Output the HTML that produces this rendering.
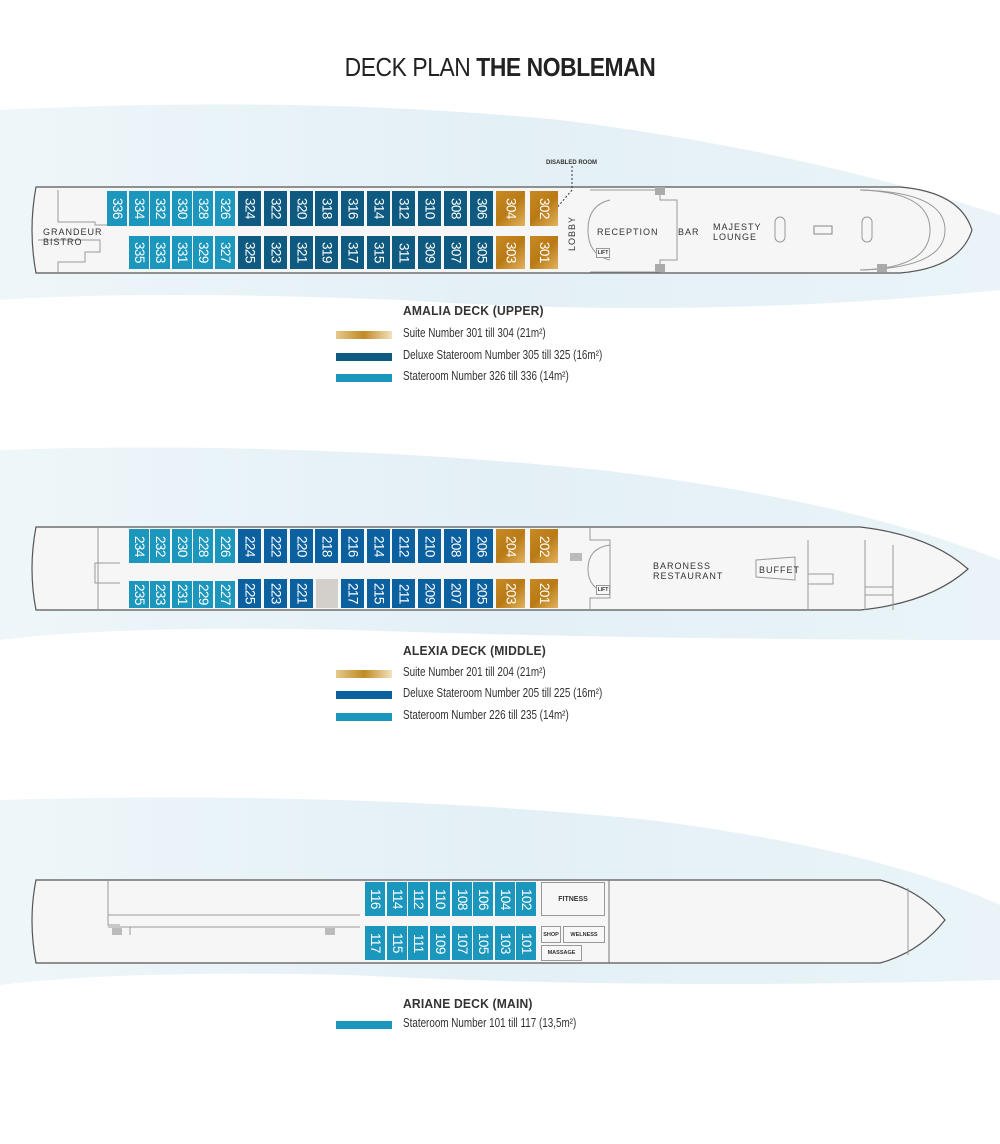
<!DOCTYPE html>
<html><head><meta charset="utf-8"><style>
*{margin:0;padding:0;box-sizing:border-box}
body{width:1000px;height:1144px;position:relative;background:#fff;font-family:"Liberation Sans",sans-serif;overflow:hidden}
.bg{position:absolute;left:0;width:1000px}
.c{position:absolute;color:#fff;font-family:"Liberation Sans",sans-serif;font-size:13.5px;letter-spacing:-0.6px;writing-mode:vertical-rl;display:flex;align-items:center;justify-content:center;line-height:1}
.l{background:#1b96bc}.d{background:#0e5a80}.m{background:#0b60a0}
.g{background:linear-gradient(135deg,#c88a25,#b97a15 50%,#e2b35e)}
.t{position:absolute;color:#333;font-size:9px;letter-spacing:1px;line-height:10px}
.h{position:absolute;left:403px;font-size:13px;font-weight:bold;color:#333;letter-spacing:.2px;transform:scaleX(.93);transform-origin:left}
.bar{position:absolute;left:336px;width:56px;height:8px}
.lg{position:absolute;left:403px;font-size:12.5px;color:#333;transform:scaleX(.79);transform-origin:left;white-space:nowrap}
.bx{position:absolute;border:1px solid #999;background:#f7f7f7;font-size:7px;font-weight:bold;color:#333;display:flex;align-items:center;justify-content:center}
</style></head><body>
<svg class="bg" style="top:0" width="1000" height="1144">
<defs><linearGradient id="w" x1="0" x2="1"><stop offset="0" stop-color="#eef6f9"/><stop offset=".5" stop-color="#e3f0f6"/><stop offset="1" stop-color="#eaf4f8"/></linearGradient></defs>
<path d="M0,110 Q300,95 560,120 Q800,150 1000,215 L1000,290 Q700,320 400,300 Q150,290 0,300Z" fill="url(#w)"/>
<path d="M0,450 Q300,440 600,470 Q850,500 1000,560 L1000,640 Q650,640 350,630 Q120,625 0,640Z" fill="url(#w)"/>
<path d="M0,800 Q350,790 650,820 Q880,850 1000,905 L1000,980 Q650,990 350,975 Q120,970 0,985Z" fill="url(#w)"/>
<path d="M36,187 L900,187 Q960,192 972,230 Q960,268 900,273 L36,273 Q28,230 36,187Z" fill="#f6f6f6" stroke="#555" stroke-width="1.2"/>
<path d="M58,190 V222 H95 V225 H108" fill="none" stroke="#999"/>
<path d="M38,240 H100 V252 H85 V262 H58 V272" fill="none" stroke="#999"/>
<path d="M590,190 H660 V200 H677 V260 H660 V272 H590" fill="none" stroke="#999"/>
<path d="M610,200 Q588,205 588,230 Q588,255 610,260" fill="none" stroke="#999"/>
<path d="M860,190 Q930,192 930,230 Q930,268 860,270" fill="none" stroke="#999"/>
<path d="M860,190 Q945,192 945,230 Q945,268 860,270" fill="none" stroke="#999"/>
<rect x="775" y="217" width="10" height="25" rx="5" fill="none" stroke="#999"/>
<rect x="862" y="217" width="10" height="25" rx="5" fill="none" stroke="#999"/>
<rect x="814" y="226" width="18" height="8" fill="none" stroke="#888"/>
<rect x="655" y="187" width="10" height="8" fill="#aaa"/><rect x="655" y="264" width="10" height="8" fill="#aaa"/>
<rect x="877" y="264" width="10" height="8" fill="#aaa"/>
<line x1="572" y1="166" x2="572" y2="190" stroke="#333" stroke-dasharray="2,2"/>
<line x1="572" y1="190" x2="555" y2="210" stroke="#333" stroke-dasharray="2,2"/>
<circle cx="554" cy="210" r="2" fill="#111"/>
<path d="M36,527 L860,527 Q930,535 968,569 Q930,603 860,610 L36,610 Q28,569 36,527Z" fill="#f6f6f6" stroke="#555" stroke-width="1.2"/>
<line x1="98" y1="527" x2="98" y2="610" stroke="#999"/>
<path d="M120,563 H95 V583 H120" fill="none" stroke="#999"/>
<path d="M590,527 V540 H610 V598 H590 V610" fill="none" stroke="#999"/>
<path d="M610,545 Q588,548 588,569 Q588,590 610,593" fill="none" stroke="#999"/>
<line x1="808" y1="540" x2="808" y2="610" stroke="#999"/>
<line x1="865" y1="540" x2="865" y2="610" stroke="#999"/><line x1="893" y1="545" x2="893" y2="610" stroke="#999"/>
<line x1="865" y1="587" x2="893" y2="587" stroke="#999"/><line x1="865" y1="595" x2="893" y2="595" stroke="#999"/>
<path d="M756,560 L795,557 V580 L756,577Z" fill="none" stroke="#999"/>
<rect x="808" y="574" width="25" height="10" fill="none" stroke="#999"/>
<rect x="570" y="553" width="12" height="8" fill="#bbb"/>
<rect x="316" y="579" width="22" height="29" fill="#d3d0cb"/>
<path d="M36,880 L880,880 Q920,890 945,920 Q920,952 880,963 L36,963 Q28,920 36,880Z" fill="#f6f6f6" stroke="#555" stroke-width="1.2"/>
<path d="M108,880 V925 H120 M108,927 H360 M130,927 V935" fill="none" stroke="#999"/>
<line x1="108" y1="915" x2="360" y2="915" stroke="#999"/>
<line x1="609" y1="880" x2="609" y2="963" stroke="#777"/>
<line x1="908" y1="888" x2="908" y2="955" stroke="#999"/>
<rect x="112" y="928" width="10" height="7" fill="#bbb"/><rect x="325" y="928" width="10" height="7" fill="#bbb"/>
</svg>

<div style="position:absolute;top:52px;width:1000px;text-align:center;font-size:26px;color:#222;letter-spacing:-.5px;transform:scaleX(.88)">DECK PLAN <b>THE NOBLEMAN</b></div>

<div class="c l" style="left:107px;top:191px;width:20px;height:35px">336</div>
<div class="c l" style="left:129px;top:191px;width:20px;height:35px">334</div>
<div class="c l" style="left:150px;top:191px;width:20px;height:35px">332</div>
<div class="c l" style="left:172px;top:191px;width:20px;height:35px">330</div>
<div class="c l" style="left:193px;top:191px;width:20px;height:35px">328</div>
<div class="c l" style="left:215px;top:191px;width:20px;height:35px">326</div>
<div class="c d" style="left:238px;top:191px;width:23px;height:35px">324</div>
<div class="c d" style="left:264px;top:191px;width:23px;height:35px">322</div>
<div class="c d" style="left:290px;top:191px;width:23px;height:35px">320</div>
<div class="c d" style="left:315px;top:191px;width:23px;height:35px">318</div>
<div class="c d" style="left:341px;top:191px;width:23px;height:35px">316</div>
<div class="c d" style="left:367px;top:191px;width:23px;height:35px">314</div>
<div class="c d" style="left:392px;top:191px;width:23px;height:35px">312</div>
<div class="c d" style="left:418px;top:191px;width:23px;height:35px">310</div>
<div class="c d" style="left:444px;top:191px;width:23px;height:35px">308</div>
<div class="c d" style="left:470px;top:191px;width:23px;height:35px">306</div>
<div class="c g" style="left:496px;top:191px;width:29px;height:35px">304</div>
<div class="c g" style="left:530px;top:191px;width:28px;height:35px">302</div>
<div class="c l" style="left:129px;top:236px;width:20px;height:33px">335</div>
<div class="c l" style="left:150px;top:236px;width:20px;height:33px">333</div>
<div class="c l" style="left:172px;top:236px;width:20px;height:33px">331</div>
<div class="c l" style="left:193px;top:236px;width:20px;height:33px">329</div>
<div class="c l" style="left:215px;top:236px;width:20px;height:33px">327</div>
<div class="c d" style="left:238px;top:236px;width:23px;height:33px">325</div>
<div class="c d" style="left:264px;top:236px;width:23px;height:33px">323</div>
<div class="c d" style="left:290px;top:236px;width:23px;height:33px">321</div>
<div class="c d" style="left:315px;top:236px;width:23px;height:33px">319</div>
<div class="c d" style="left:341px;top:236px;width:23px;height:33px">317</div>
<div class="c d" style="left:367px;top:236px;width:23px;height:33px">315</div>
<div class="c d" style="left:392px;top:236px;width:23px;height:33px">311</div>
<div class="c d" style="left:418px;top:236px;width:23px;height:33px">309</div>
<div class="c d" style="left:444px;top:236px;width:23px;height:33px">307</div>
<div class="c d" style="left:470px;top:236px;width:23px;height:33px">305</div>
<div class="c g" style="left:496px;top:236px;width:29px;height:33px">303</div>
<div class="c g" style="left:530px;top:236px;width:28px;height:33px">301</div>
<div class="t" style="left:43px;top:227px">GRANDEUR<br>BISTRO</div>
<div class="t" style="left:567px;top:216px;writing-mode:vertical-rl;transform:rotate(180deg)">LOBBY</div>
<div class="t" style="left:597px;top:227px">RECEPTION</div>
<div class="t" style="left:678px;top:227px">BAR</div>
<div class="t" style="left:713px;top:222px">MAJESTY<br>LOUNGE</div>
<div class="t" style="left:546px;top:158px;font-size:6px;font-weight:bold;letter-spacing:0">DISABLED ROOM</div>
<div class="bx" style="left:596px;top:248px;width:14px;height:10px;font-size:5px">LIFT</div>
<div class="h" style="top:303px">AMALIA DECK (UPPER)</div>
<div class="bar" style="top:331px;background:linear-gradient(90deg,#e4c98a,#c08a25 50%,#f3e2bb)"></div>
<div class="lg" style="top:326px">Suite Number 301 till 304 (21m²)</div>
<div class="bar d" style="top:353px"></div>
<div class="lg" style="top:348px">Deluxe Stateroom Number 305 till 325 (16m²)</div>
<div class="bar l" style="top:374px"></div>
<div class="lg" style="top:369px">Stateroom Number 326 till 336 (14m²)</div>

<div class="c l" style="left:129px;top:529px;width:20px;height:34px">234</div>
<div class="c l" style="left:150px;top:529px;width:20px;height:34px">232</div>
<div class="c l" style="left:172px;top:529px;width:20px;height:34px">230</div>
<div class="c l" style="left:193px;top:529px;width:20px;height:34px">228</div>
<div class="c l" style="left:215px;top:529px;width:20px;height:34px">226</div>
<div class="c m" style="left:238px;top:529px;width:23px;height:34px">224</div>
<div class="c m" style="left:264px;top:529px;width:23px;height:34px">222</div>
<div class="c m" style="left:290px;top:529px;width:23px;height:34px">220</div>
<div class="c m" style="left:315px;top:529px;width:23px;height:34px">218</div>
<div class="c m" style="left:341px;top:529px;width:23px;height:34px">216</div>
<div class="c m" style="left:367px;top:529px;width:23px;height:34px">214</div>
<div class="c m" style="left:392px;top:529px;width:23px;height:34px">212</div>
<div class="c m" style="left:418px;top:529px;width:23px;height:34px">210</div>
<div class="c m" style="left:444px;top:529px;width:23px;height:34px">208</div>
<div class="c m" style="left:470px;top:529px;width:23px;height:34px">206</div>
<div class="c g" style="left:496px;top:529px;width:29px;height:34px">204</div>
<div class="c g" style="left:530px;top:529px;width:28px;height:34px">202</div>
<div class="c l" style="left:129px;top:581px;width:20px;height:27px">235</div>
<div class="c l" style="left:150px;top:581px;width:20px;height:27px">233</div>
<div class="c l" style="left:172px;top:581px;width:20px;height:27px">231</div>
<div class="c l" style="left:193px;top:581px;width:20px;height:27px">229</div>
<div class="c l" style="left:215px;top:581px;width:20px;height:27px">227</div>
<div class="c m" style="left:238px;top:579px;width:23px;height:29px">225</div>
<div class="c m" style="left:264px;top:579px;width:23px;height:29px">223</div>
<div class="c m" style="left:290px;top:579px;width:23px;height:29px">221</div>
<div class="c m" style="left:341px;top:579px;width:23px;height:29px">217</div>
<div class="c m" style="left:367px;top:579px;width:23px;height:29px">215</div>
<div class="c m" style="left:392px;top:579px;width:23px;height:29px">211</div>
<div class="c m" style="left:418px;top:579px;width:23px;height:29px">209</div>
<div class="c m" style="left:444px;top:579px;width:23px;height:29px">207</div>
<div class="c m" style="left:470px;top:579px;width:23px;height:29px">205</div>
<div class="c g" style="left:496px;top:579px;width:29px;height:29px">203</div>
<div class="c g" style="left:530px;top:579px;width:28px;height:29px">201</div>
<div class="t" style="left:653px;top:561px">BARONESS<br>RESTAURANT</div>
<div class="t" style="left:759px;top:565px">BUFFET</div>
<div class="bx" style="left:596px;top:585px;width:14px;height:10px;font-size:5px">LIFT</div>
<div class="h" style="top:643px">ALEXIA DECK (MIDDLE)</div>
<div class="bar" style="top:670px;background:linear-gradient(90deg,#e4c98a,#c08a25 50%,#f3e2bb)"></div>
<div class="lg" style="top:665px">Suite Number 201 till 204 (21m²)</div>
<div class="bar m" style="top:691px"></div>
<div class="lg" style="top:686px">Deluxe Stateroom Number 205 till 225 (16m²)</div>
<div class="bar l" style="top:713px"></div>
<div class="lg" style="top:708px">Stateroom Number 226 till 235 (14m²)</div>

<div class="c l" style="left:365px;top:882px;width:20px;height:34px">116</div>
<div class="c l" style="left:387px;top:882px;width:20px;height:34px">114</div>
<div class="c l" style="left:408px;top:882px;width:20px;height:34px">112</div>
<div class="c l" style="left:430px;top:882px;width:20px;height:34px">110</div>
<div class="c l" style="left:452px;top:882px;width:20px;height:34px">108</div>
<div class="c l" style="left:473px;top:882px;width:20px;height:34px">106</div>
<div class="c l" style="left:495px;top:882px;width:20px;height:34px">104</div>
<div class="c l" style="left:516px;top:882px;width:20px;height:34px">102</div>
<div class="c l" style="left:365px;top:926px;width:20px;height:34px">117</div>
<div class="c l" style="left:387px;top:926px;width:20px;height:34px">115</div>
<div class="c l" style="left:408px;top:926px;width:20px;height:34px">111</div>
<div class="c l" style="left:430px;top:926px;width:20px;height:34px">109</div>
<div class="c l" style="left:452px;top:926px;width:20px;height:34px">107</div>
<div class="c l" style="left:473px;top:926px;width:20px;height:34px">105</div>
<div class="c l" style="left:495px;top:926px;width:20px;height:34px">103</div>
<div class="c l" style="left:516px;top:926px;width:20px;height:34px">101</div>
<div class="bx" style="left:541px;top:882px;width:64px;height:34px">FITNESS</div>
<div class="bx" style="left:541px;top:926px;width:20px;height:17px;font-size:5.5px">SHOP</div>
<div class="bx" style="left:563px;top:926px;width:42px;height:17px;font-size:5.5px">WELNESS</div>
<div class="bx" style="left:541px;top:945px;width:41px;height:16px;font-size:5.5px">MASSAGE</div>
<div class="h" style="top:996px">ARIANE DECK (MAIN)</div>
<div class="bar l" style="top:1021px"></div>
<div class="lg" style="top:1016px">Stateroom Number 101 till 117 (13,5m²)</div>
</body></html>
